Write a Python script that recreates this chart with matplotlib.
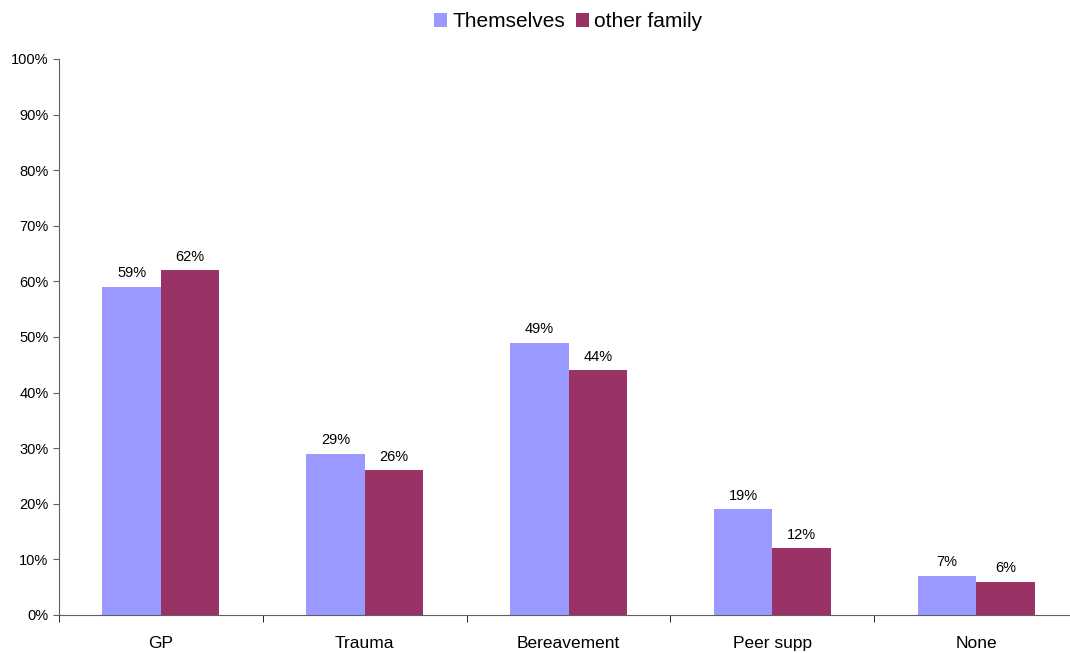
import matplotlib.pyplot as plt
import numpy as np

categories = ["GP", "Trauma", "Bereavement", "Peer supp", "None"]
themselves = [59, 29, 49, 19, 7]
other_family = [62, 26, 44, 12, 6]
series_names = ["Themselves", "other family"]

plt.rcParams["font.family"] = ["Liberation Sans", "DejaVu Sans"]

fig = plt.figure(figsize=(10.7, 6.53), dpi=100)
# axes spans 59..1078 px horizontally (cut off at the right edge), 59..615 px vertically
ax = fig.add_axes([59 / 1070, 38 / 653, 1019 / 1070, 556 / 653])

x = np.arange(len(categories))
w = 0.287
b1 = ax.bar(x - w / 2, themselves, w, color="#9999FF", label=series_names[0])
b2 = ax.bar(x + w / 2, other_family, w, color="#993366", label=series_names[1])

for bars, vals in [(b1, themselves), (b2, other_family)]:
    for bar, v in zip(bars, vals):
        ax.text(bar.get_x() + bar.get_width() / 2, v + 1.2, f"{v}%",
                ha="center", va="bottom", fontsize=10.5)

ax.set_xlim(-0.5, len(categories) - 0.5)
ax.set_ylim(0, 100)
ax.set_yticks(np.arange(0, 101, 10))
ax.set_yticklabels([f"{t}%" for t in range(0, 101, 10)], fontsize=10.5)

ax.set_xticks(x)
ax.set_xticklabels(categories, fontsize=12.5)
ax.tick_params(axis="x", which="major", length=0, pad=15)
ax.set_xticks(np.arange(-0.5, len(categories), 1), minor=True)
ax.tick_params(axis="x", which="minor", length=5, direction="out", color="black")
ax.tick_params(axis="y", length=4, direction="out", color="#606060")

for s in ["top", "right"]:
    ax.spines[s].set_visible(False)
ax.spines["left"].set_color("#606060")
ax.spines["bottom"].set_color("#606060")

fig.legend(loc="upper center", bbox_to_anchor=(0.531, 1.01), ncol=2, frameon=False,
           fontsize=15, handlelength=0.65, handleheight=0.65, handletextpad=0.25,
           columnspacing=0.5)

fig.savefig("out.png", dpi=100)
